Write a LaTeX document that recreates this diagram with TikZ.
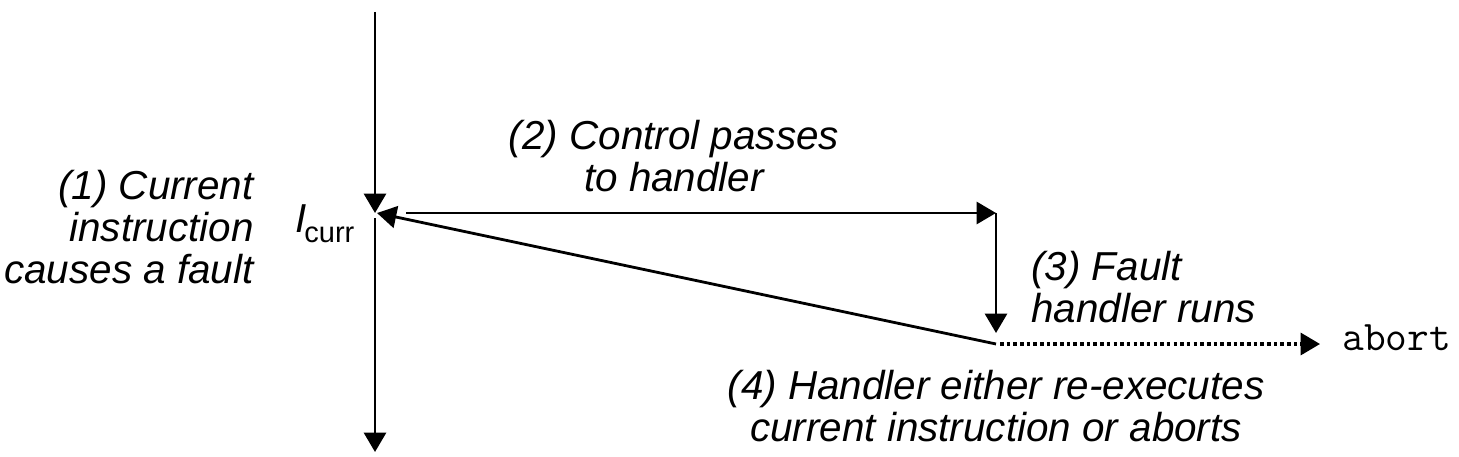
\documentclass[tikz,border=0pt]{standalone}
\usepackage{fontspec}
\usepackage{tikz}
\usetikzlibrary{arrows.meta}
\newfontfamily\labelfont{Liberation Sans}

\begin{document}
\begin{tikzpicture}[x=0.02cm,y=-0.02cm,>={Triangle[length=11pt,width=12.5pt]}]
						\useasboundingbox (0,0) rectangle (1459,456);

						\coordinate (top) at (375,12);
						\coordinate (curr) at (375,213);
						\coordinate (below) at (375,218);
						\coordinate (bottom) at (375,452);
						\coordinate (back) at (377,213);
						\coordinate (leave) at (406,213);
						\coordinate (handler) at (996,213);
						\coordinate (done) at (996,333);
						\coordinate (ret) at (996,344);
						\coordinate (dots) at (1000,344);
						\coordinate (kill) at (1320,344);

						\begin{scope}[every node/.style={inner sep=0pt,font=\labelfont\itshape\fontsize{23}{24}\selectfont}]
							\node (fault) [anchor=east,align=right] at (254,227) {(1) Current\\instruction\\causes a fault};
							\node (pass) [align=center] at (674,156) {(2) Control passes\\to handler};
							\node (runs) [anchor=west,align=left] at (1031,287) {(3) Fault\\handler runs};
							\node (outcome) [align=center] at (996,406) {(4) Handler either re-executes\\current instruction or aborts};
							\node (icurr) [anchor=base west] at (295,232) {I\kern-1.2pt\raisebox{-5.7pt}{\upshape\fontsize{16.5}{17}\selectfont curr}};
							\node (abort) [anchor=base west,font=\ttfamily\fontsize{24}{25}\selectfont] at (1342,350) {abort};
						\end{scope}

						\begin{scope}[every edge/.style={draw=black,line width=1.6pt}]
							\path [->] (top) edge (curr);
							\path [->] (below) edge (bottom);
							\path [->] (leave) edge (handler);
							\path [->] (handler) edge (done);
							\path [->] (ret) edge (back);
							\path [->] (dots) edge [line width=1.8pt,dash pattern=on 2pt off 1.8pt] (kill);
						\end{scope}
					\end{tikzpicture}
\end{document}
